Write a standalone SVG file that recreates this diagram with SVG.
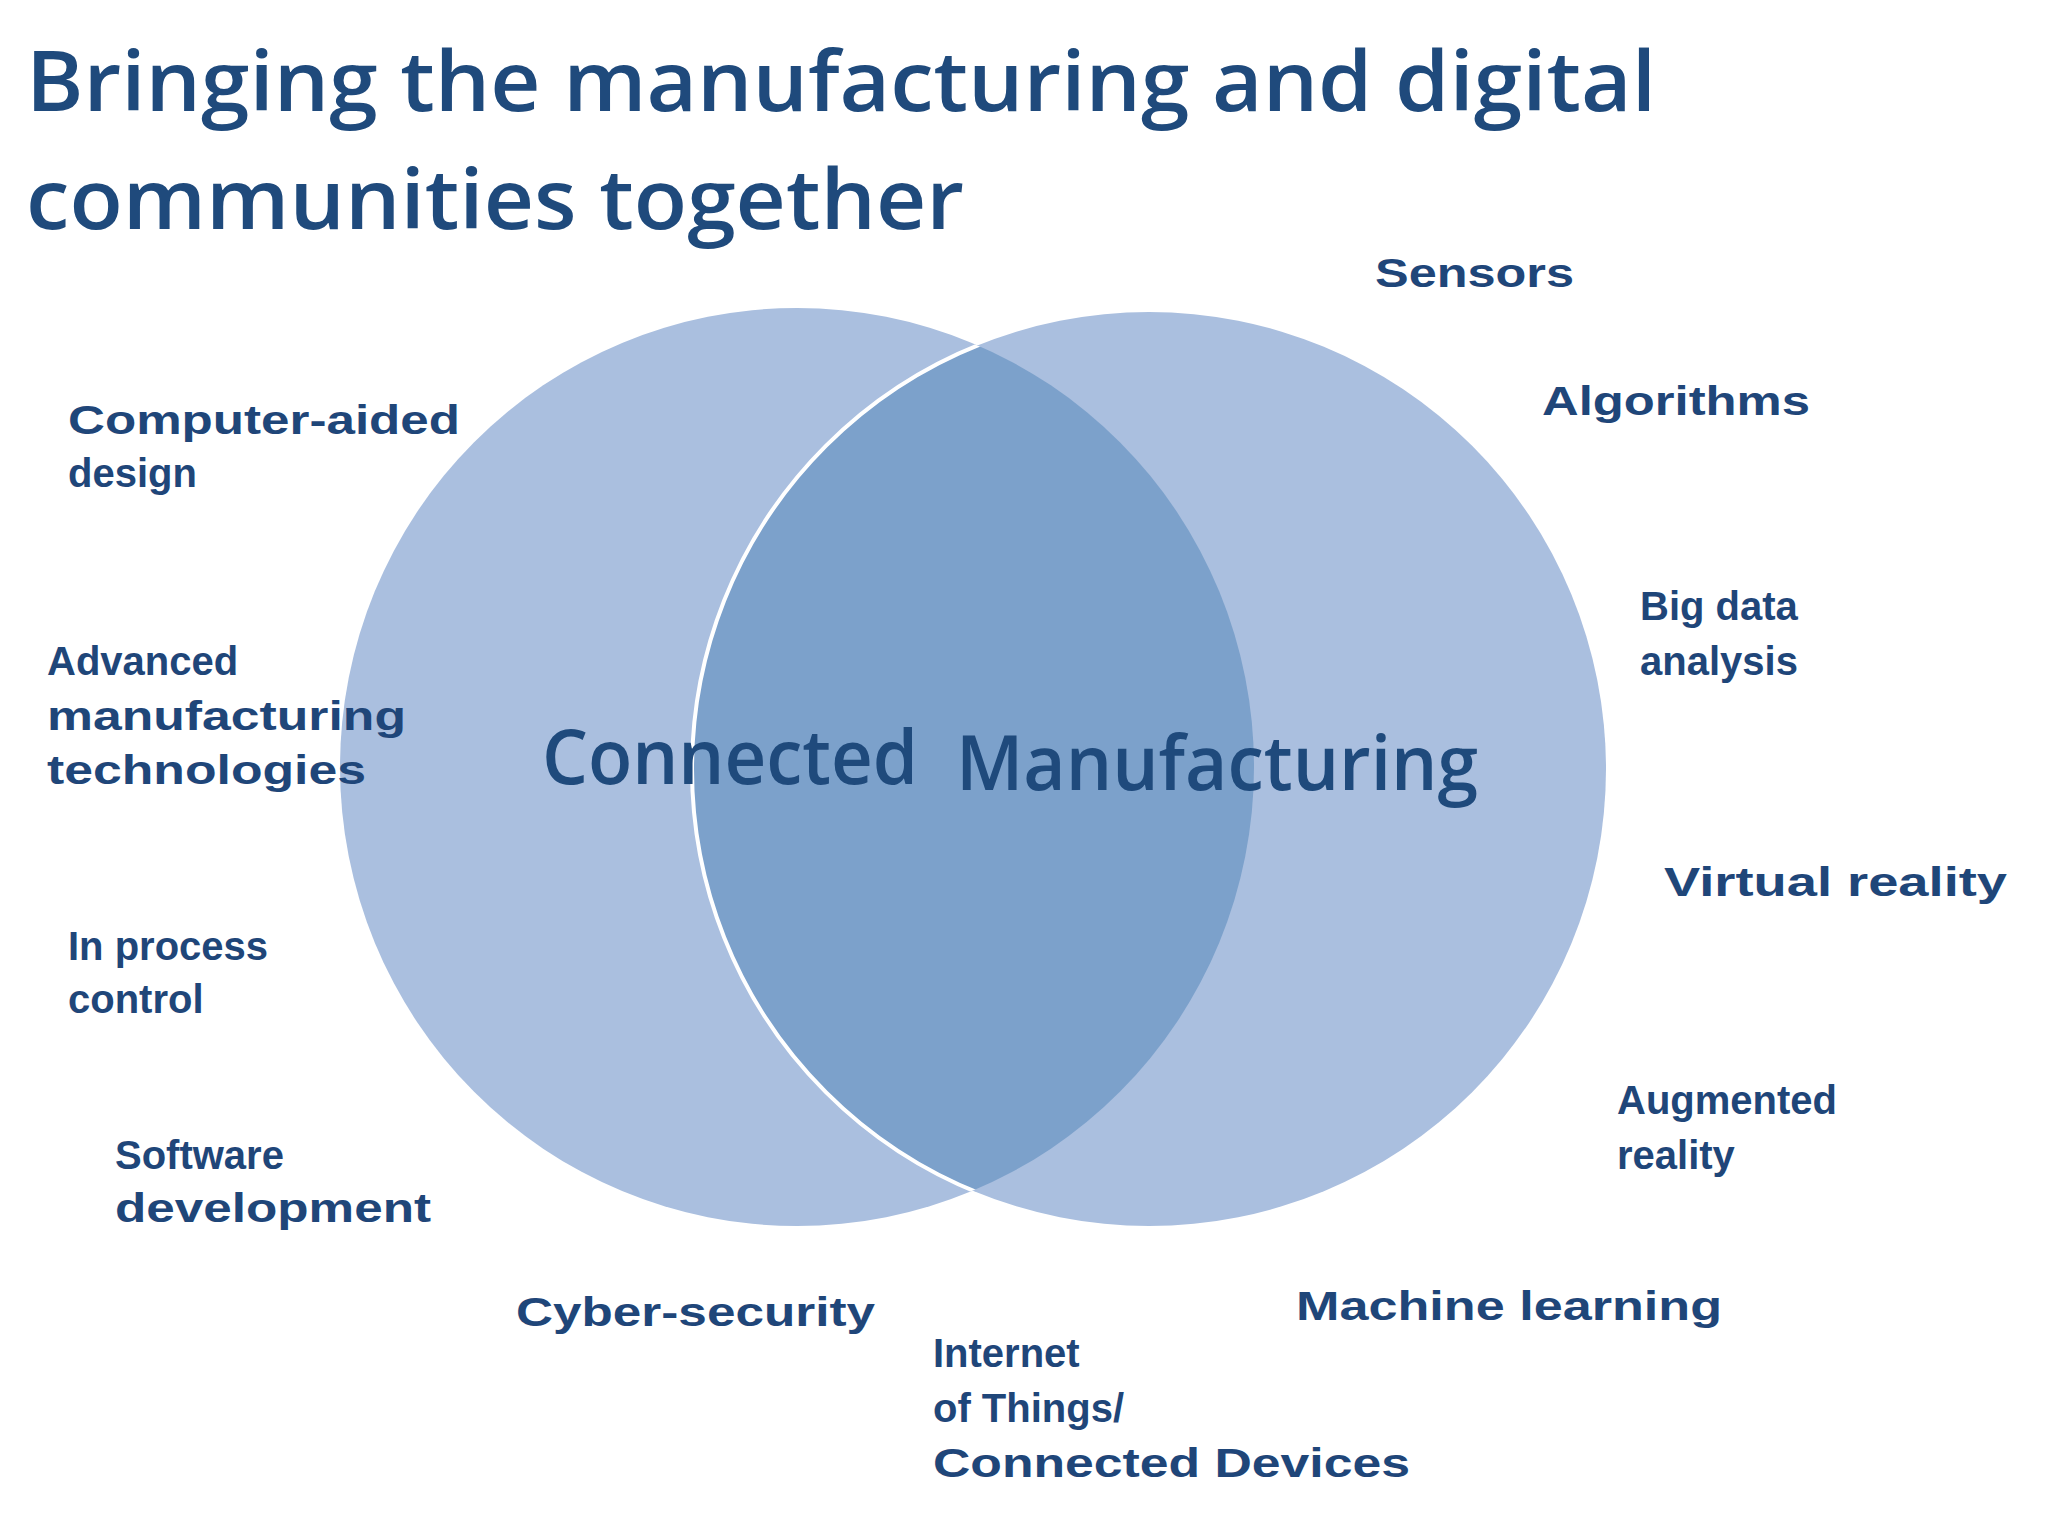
<svg xmlns="http://www.w3.org/2000/svg" width="2048" height="1536" viewBox="0 0 2048 1536">
<style>
.t{font-family:"Open Sans","Liberation Sans",sans-serif;font-weight:600;fill:#1f4a7c;font-size:84px}
.l{font-family:"Liberation Sans",Arial,sans-serif;font-weight:bold;fill:#1f4679;font-size:40px}
.c{font-family:"Open Sans","Liberation Sans",sans-serif;font-weight:600;fill:#1f4a7c;font-size:76px}
</style>
<defs>
<clipPath id="cr"><ellipse cx="1149" cy="769" rx="457" ry="457"/></clipPath>
<clipPath id="cl"><ellipse cx="797" cy="767" rx="457" ry="459"/></clipPath>
</defs>
<rect width="2048" height="1536" fill="#ffffff"/>
<g id="circle-left"><ellipse cx="797" cy="767" rx="457" ry="459" fill="#aabfdf"/></g>
<g id="circle-right"><ellipse cx="1149" cy="769" rx="457" ry="457" fill="#aabfdf"/></g>
<g id="overlap">
<ellipse cx="797" cy="767" rx="457" ry="459" fill="#7ca1cb" clip-path="url(#cr)"/>
<ellipse cx="1149" cy="769" rx="457" ry="457" fill="none" stroke="#ffffff" stroke-width="4" clip-path="url(#cl)"/>
</g>
<g id="title">
<text class="t" x="26" y="111" textLength="1630" lengthAdjust="spacingAndGlyphs">Bringing the manufacturing and digital</text>
<text class="t" x="26" y="229" textLength="938" lengthAdjust="spacingAndGlyphs">communities together</text>
</g>
<g id="center-labels">
<text class="c" x="542" y="784" textLength="376" lengthAdjust="spacingAndGlyphs">Connected</text>
<text class="c" x="956" y="790" textLength="522" lengthAdjust="spacingAndGlyphs">Manufacturing</text>
</g>
<g id="labels">
<text class="l" x="1375" y="287" textLength="199" lengthAdjust="spacingAndGlyphs">Sensors</text>
<text class="l" x="1542" y="415" textLength="268" lengthAdjust="spacingAndGlyphs">Algorithms</text>
<text class="l" x="68" y="434" textLength="392" lengthAdjust="spacingAndGlyphs">Computer-aided</text>
<text class="l" x="68" y="487">design</text>
<text class="l" x="1640" y="620">Big data</text>
<text class="l" x="1640" y="675">analysis</text>
<text class="l" x="47" y="675">Advanced</text>
<text class="l" x="47" y="730" textLength="359" lengthAdjust="spacingAndGlyphs">manufacturing</text>
<text class="l" x="47" y="784" textLength="319" lengthAdjust="spacingAndGlyphs">technologies</text>
<text class="l" x="1664" y="896" textLength="343" lengthAdjust="spacingAndGlyphs">Virtual reality</text>
<text class="l" x="68" y="960">In process</text>
<text class="l" x="68" y="1013">control</text>
<text class="l" x="1617" y="1114">Augmented</text>
<text class="l" x="1617" y="1169">reality</text>
<text class="l" x="115" y="1169">Software</text>
<text class="l" x="115" y="1222" textLength="316" lengthAdjust="spacingAndGlyphs">development</text>
<text class="l" x="1296" y="1320" textLength="426" lengthAdjust="spacingAndGlyphs">Machine learning</text>
<text class="l" x="516" y="1326" textLength="359" lengthAdjust="spacingAndGlyphs">Cyber-security</text>
<text class="l" x="933" y="1367">Internet</text>
<text class="l" x="933" y="1422">of Things/</text>
<text class="l" x="933" y="1477" textLength="477" lengthAdjust="spacingAndGlyphs">Connected Devices</text>
</g>
</svg>
